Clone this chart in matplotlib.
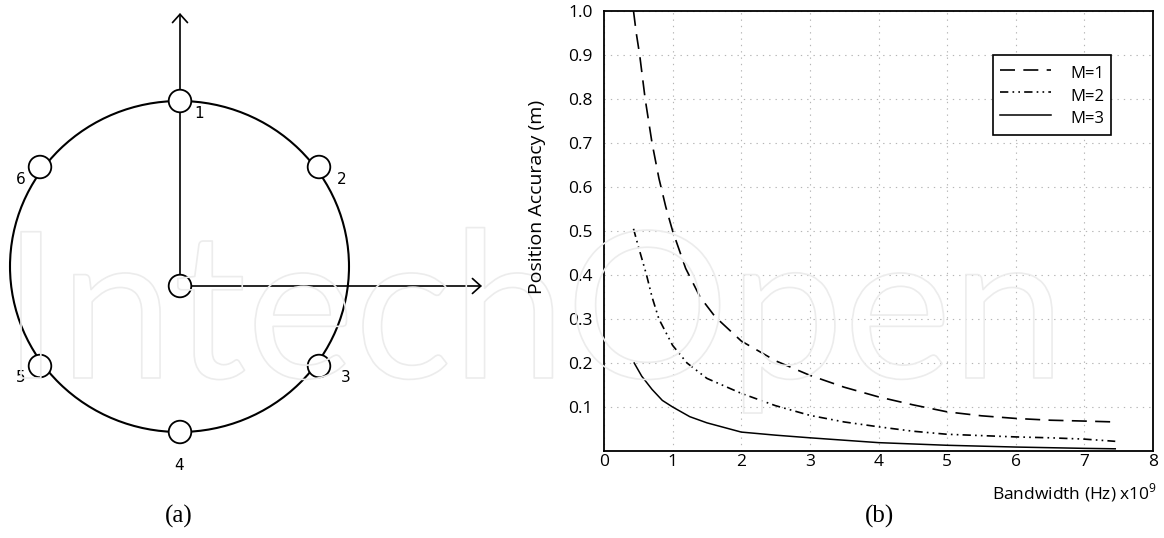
import matplotlib
matplotlib.use('Agg')
import matplotlib.pyplot as plt
import matplotlib.patheffects as pe
from matplotlib.patches import Circle, Ellipse

plt.rcParams['font.family'] = ['Open Sans', 'DejaVu Sans']
plt.rcParams['mathtext.fontset'] = 'custom'
plt.rcParams['mathtext.rm'] = 'Open Sans'

# ---- panel (b) data ----
bw_m1 = [0.43, 0.47, 0.52, 0.6, 0.7, 0.8, 0.9, 1.0, 1.19, 1.4, 1.62, 2.0, 2.5,
         3.0, 3.5, 4.0, 4.5, 5.0, 5.5, 6.0, 6.5, 7.0, 7.45]
acc_m1 = [1.0, 0.95, 0.9, 0.8, 0.7, 0.62, 0.555, 0.5, 0.415, 0.35, 0.305, 0.25, 0.205,
          0.172, 0.145, 0.123, 0.105, 0.089, 0.080, 0.074, 0.070, 0.068, 0.066]

bw_m2 = [0.43, 0.5, 0.62, 0.7, 0.8, 0.9, 1.0, 1.21, 1.5, 2.0, 2.5, 3.0, 3.5,
         4.0, 4.5, 5.0, 5.5, 6.0, 6.5, 7.0, 7.45]
acc_m2 = [0.505, 0.465, 0.4, 0.35, 0.3, 0.27, 0.24, 0.2, 0.165, 0.131, 0.103,
          0.081, 0.066, 0.055, 0.045, 0.038, 0.035, 0.032, 0.030, 0.027, 0.022]

bw_m3 = [0.44, 0.55, 0.7, 0.85, 1.0, 1.25, 1.5, 2.0, 2.5, 3.0, 4.0, 5.0, 6.0,
         7.0, 7.45]
acc_m3 = [0.2, 0.17, 0.14, 0.115, 0.1, 0.078, 0.064, 0.043, 0.036, 0.030, 0.019,
          0.013, 0.009, 0.006, 0.005]

x_ticks = [0, 1, 2, 3, 4, 5, 6, 7, 8]
y_ticks = [0.1, 0.2, 0.3, 0.4, 0.5, 0.6, 0.7, 0.8, 0.9, 1.0]
series_labels = ['M=1', 'M=2', 'M=3']

# ---- panel (a) data: node layout in pixels ----
node_labels = ['1', '2', '3', '4', '5', '6']
node_x = [180, 319, 319, 180, 40, 40]
node_y = [101, 167, 366, 432, 366, 167]
label_x = [199, 342, 346, 179, 21, 21]
label_y = [113, 179, 377, 465, 377, 179]
center_node = (180, 286)

W, H = 1164, 538
fig = plt.figure(figsize=(W / 100, H / 100), dpi=100)

# faint publisher watermark (outline only), drawn first
wm = fig.text(0.002, 1 - 378 / H, 'IntechOpen', fontsize=147, color='none',
              family='Lato', ha='left', va='baseline')
wm.set_path_effects([pe.Stroke(linewidth=1.2, foreground='#ececec')])

# diagram axes in pixel coordinates
axa = fig.add_axes([0, 0, 1, 1])
axa.set_xlim(0, W)
axa.set_ylim(H, 0)
axa.axis('off')
axa.patch.set_alpha(0)

axa.add_patch(Ellipse((179.5, 266.5), 339, 331, fill=False, ec='black', lw=1.5, zorder=1))
arrow_kw = dict(arrowstyle='->,head_length=0.5,head_width=0.45', mutation_scale=12,
                lw=1.2, color='black', shrinkA=0, shrinkB=0)
axa.annotate('', xy=(center_node[0], 13), xytext=center_node, arrowprops=arrow_kw, zorder=2)
axa.annotate('', xy=(482, center_node[1]), xytext=center_node, arrowprops=arrow_kw, zorder=2)

for x, y in zip(node_x + [center_node[0]], node_y + [center_node[1]]):
    axa.add_patch(Circle((x, y), 11.3, fc='white', ec='black', lw=1.3, zorder=3))
for lab, x, y in zip(node_labels, label_x, label_y):
    axa.text(x, y, lab, fontsize=11, family='DejaVu Sans', ha='center', va='center')

axa.text(179, 516, '(a)', fontsize=18, family='Liberation Serif', ha='center', va='center')
axa.text(880, 516, '(b)', fontsize=18, family='Liberation Serif', ha='center', va='center')

# chart axes
ax = fig.add_axes([604 / W, 87 / H, 549 / W, 440 / H])
ax.patch.set_alpha(0)
ax.plot(bw_m1, acc_m1, color='black', lw=1.2, dashes=(9, 5), label=series_labels[0])
ax.plot(bw_m2, acc_m2, color='black', lw=1.2, dashes=(5, 2.5, 1, 2.5, 1, 2.5),
        label=series_labels[1])
ax.plot(bw_m3, acc_m3, color='black', lw=1.1, label=series_labels[2])

ax.set_xlim(0, 8)
ax.set_ylim(0, 1)
ax.set_xticks(x_ticks)
ax.set_yticks(y_ticks)
ax.set_yticklabels(['%.1f' % v for v in y_ticks])
ax.tick_params(length=0, labelsize=12.5)
ax.tick_params(axis='y', pad=8)
ax.tick_params(axis='x', pad=2)
ax.grid(True, color='#b5b5b5', lw=0.8, linestyle=(0, (1.2, 4.5)))
for s in ax.spines.values():
    s.set_linewidth(1.3)
    s.set_color('black')

leg = ax.legend(loc='upper left', bbox_to_anchor=(0.709, 0.9), fancybox=False,
                edgecolor='black', framealpha=1, borderaxespad=0, handlelength=3.05,
                handleheight=1.6, handletextpad=1.15, fontsize=12, borderpad=0.4,
                labelspacing=0.08)
leg.get_frame().set_linewidth(1.2)

fig.text(537 / W, 1 - 197 / H, 'Position Accuracy (m)', rotation=90, fontsize=14,
         ha='center', va='center')
fig.text(1157 / W, 1 - 493 / H, r'Bandwidth (Hz) x10$^{9}$', fontsize=12.5,
         ha='right', va='center')

fig.savefig('out.png', dpi=100)
